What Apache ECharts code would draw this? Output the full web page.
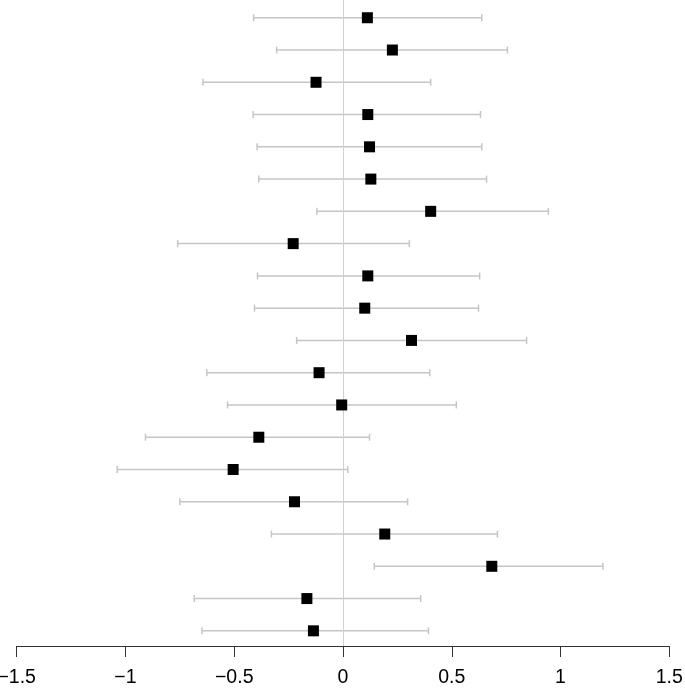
<!DOCTYPE html>
<html>
<head>
<meta charset="utf-8">
<script src="https://cdn.jsdelivr.net/npm/echarts@6/dist/echarts.min.js"></script>
<style>html,body{margin:0;padding:0;background:#fff;}#c{width:685px;height:691px;}</style>
</head>
<body>
<div id="c"></div>
<script>
var rows = [1,2,3,4,5,6,7,8,9,10,11,12,13,14,15,16,17,18,19,20];
var estimate = [0.112, 0.227, -0.124, 0.114, 0.122, 0.128, 0.403, -0.229, 0.114, 0.100, 0.315, -0.110, -0.006, -0.387, -0.505, -0.223, 0.192, 0.684, -0.166, -0.136];
var lower = [-0.411, -0.305, -0.644, -0.413, -0.395, -0.387, -0.120, -0.760, -0.393, -0.407, -0.213, -0.626, -0.531, -0.908, -1.038, -0.750, -0.329, 0.144, -0.684, -0.648];
var upper = [0.638, 0.756, 0.403, 0.632, 0.638, 0.660, 0.944, 0.305, 0.628, 0.623, 0.844, 0.399, 0.521, 0.122, 0.022, 0.297, 0.710, 1.195, 0.357, 0.393];
var xTicks = [-1.5, -1, -0.5, 0, 0.5, 1, 1.5];

var chart = echarts.init(document.getElementById('c'), null, {renderer: 'canvas'});
var barData = rows.map(function (r, i) { return [lower[i], upper[i], r]; });
var ptData = rows.map(function (r, i) { return [estimate[i], r]; });

chart.setOption({
  animation: false,
  backgroundColor: '#ffffff',
  grid: {left: 16.7, right: 15.7, top: 0, bottom: 45, containLabel: false, outerBoundsMode: 'none'},
  xAxis: {
    type: 'value', min: -1.5, max: 1.5, interval: 0.5,
    axisLine: {show: true, onZero: false, lineStyle: {color: '#333333', width: 1}},
    axisTick: {show: true, length: 11, lineStyle: {color: '#333333', width: 1}},
    splitLine: {show: false},
    axisLabel: {
      margin: 22, color: '#000000', fontSize: 19.5,
      fontFamily: 'Liberation Sans, Arial, sans-serif',
      showMinLabel: true, showMaxLabel: true, hideOverlap: false,
      formatter: function (v) { return String(v).replace('-', '\u2212'); }
    }
  },
  yAxis: {type: 'value', min: 0.45, max: 20.47, inverse: true, show: false},
  series: [
    {
      type: 'custom',
      data: barData,
      encode: {x: [0, 1], y: 2},
      z: 2,
      renderItem: function (params, api) {
        var a = api.coord([api.value(0), api.value(2)]);
        var b = api.coord([api.value(1), api.value(2)]);
        var h = 3.5;
        var st = {stroke: '#c6c6c6', lineWidth: 1.5};
        return {type: 'group', children: [
          {type: 'line', shape: {x1: a[0], y1: a[1], x2: b[0], y2: b[1]}, style: st},
          {type: 'line', shape: {x1: a[0], y1: a[1] - h, x2: a[0], y2: a[1] + h}, style: st},
          {type: 'line', shape: {x1: b[0], y1: b[1] - h, x2: b[0], y2: b[1] + h}, style: st}
        ]};
      },
      markLine: {
        silent: true, symbol: 'none', label: {show: false},
        lineStyle: {color: '#d0d0d0', width: 1, type: 'solid'},
        data: [{xAxis: 0}]
      }
    },
    {
      type: 'scatter',
      data: ptData,
      symbol: 'rect',
      symbolSize: 11,
      z: 5,
      itemStyle: {color: '#000000', opacity: 1}
    }
  ]
});
</script>
</body>
</html>
